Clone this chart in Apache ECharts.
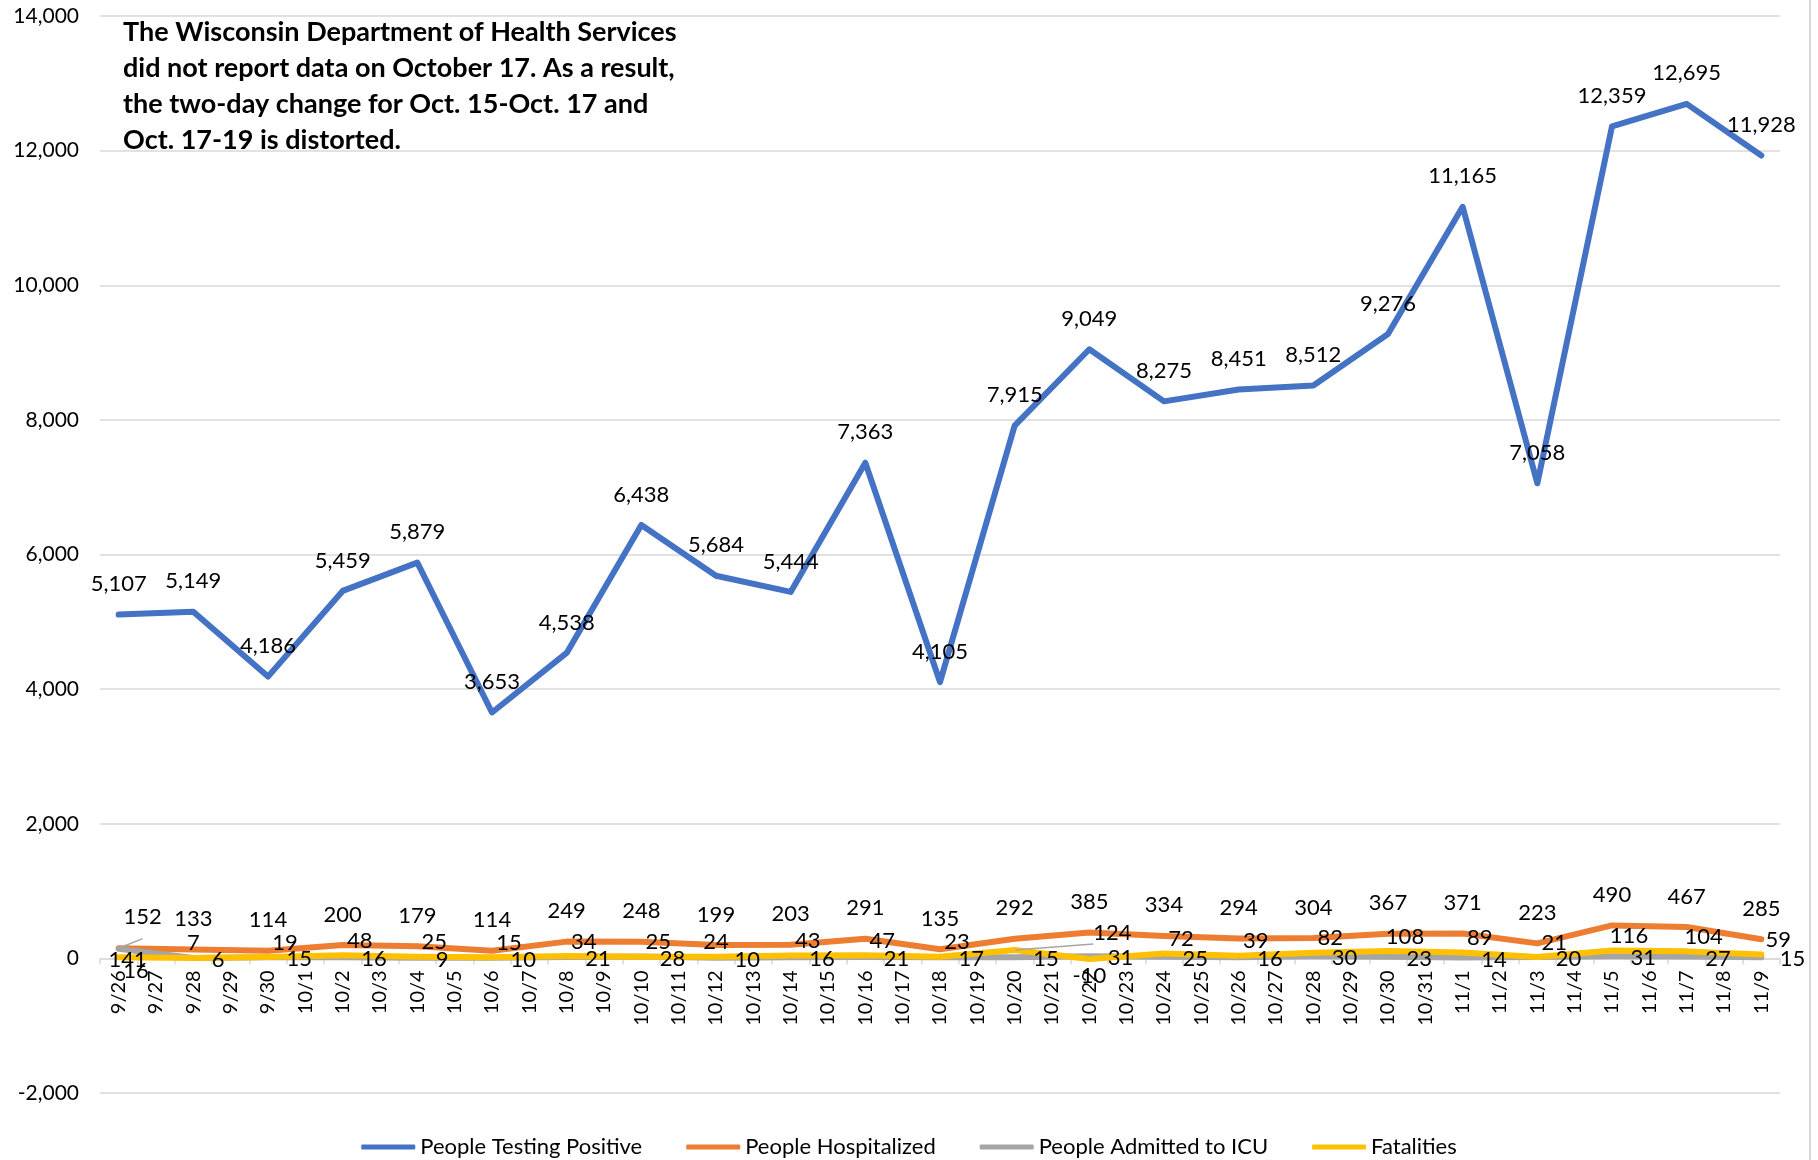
<!DOCTYPE html>
<html>
<head>
<meta charset="utf-8">
<script src="https://cdn.jsdelivr.net/npm/echarts@6/dist/echarts.min.js"></script>
<style>
html,body{margin:0;padding:0;background:#fff;}
#chart{width:1818px;height:1160px;}
</style>
</head>
<body>
<div id="chart"></div>
<script>
const categories = ['9/26','9/27','9/28','9/29','9/30','10/1','10/2','10/3','10/4','10/5','10/6','10/7','10/8','10/9','10/10','10/11','10/12','10/13','10/14','10/15','10/16','10/17','10/18','10/19','10/20','10/21','10/22','10/23','10/24','10/25','10/26','10/27','10/28','10/29','10/30','10/31','11/1','11/2','11/3','11/4','11/5','11/6','11/7','11/8','11/9'];
const pointDates = ['9/26','9/28','9/30','10/2','10/4','10/6','10/8','10/10','10/12','10/14','10/16','10/18','10/20','10/22','10/24','10/26','10/28','10/30','11/1','11/3','11/5','11/7','11/9'];
const testingPositive = [5107,5149,4186,5459,5879,3653,4538,6438,5684,5444,7363,4105,7915,9049,8275,8451,8512,9276,11165,7058,12359,12695,11928];
const hospitalized = [152,133,114,200,179,114,249,248,199,203,291,135,292,385,334,294,304,367,371,223,490,467,285];
const admittedICU = [141,6,15,16,9,10,21,28,10,16,21,17,15,31,25,16,30,23,14,20,31,27,15];
const fatalities = [16,7,19,48,25,15,34,25,24,43,47,23,124,-10,72,39,82,108,89,21,116,104,59];
const yTicks = {min:-2000, max:14000, step:2000};
const noteText = 'The Wisconsin Department of Health Services\ndid not report data on October 17. As a result,\nthe two-day change for Oct. 15-Oct. 17 and\nOct. 17-19 is distorted.';

const FONT = 'Lato, "Liberation Sans", sans-serif';
const fmt = v => Number(v).toLocaleString('en-US');
const labelFmt = p => fmt(p.value[1]);

// per-point label adjustments (styling, not data)
const hospLabelOverrides = {0:{offset:[24,-1]}};
const hospLeader = {0:true};
const icuLabelOverrides = {0:{position:'bottom', distance:0, offset:[9,0]}};
const fatLabelOverrides = {
  0:{position:'right', distance:4, offset:[0,14]},
  1:{offset:[0,0]},
  8:{offset:[0,0]},
  12:{position:'right', distance:4, offset:[74,-17]},
  13:{position:'bottom', distance:5, offset:[0,0]}
};
const fatLeader = {12:true};

function build(values, overrides, leaders){
  return pointDates.map((d,i)=>{
    const item = {value:[d, values[i]]};
    if (overrides && overrides[i]) item.label = overrides[i];
    item.labelLine = {show: !!(leaders && leaders[i])};
    return item;
  });
}

const baseLabel = {show:true, fontFamily:FONT, fontSize:22, color:'#000', formatter:labelFmt};
const leaderStyle = {show:true, lineStyle:{color:'#a6a6a6', width:1.5}, length2:0};

function lineSeries(name, color, data, label, z){
  return {
    name, type:'line', data, z,
    symbol:'circle', symbolSize:1, showSymbol:true,
    itemStyle:{color},
    lineStyle:{color, width:6, cap:'round', join:'round'},
    label, labelLine: leaderStyle,
    emphasis:{disabled:true},
    animation:false
  };
}

// grid geometry: plot spans y = 16 .. 1093, value 0 sits at 960
const gridTop = 16, gridBottomPx = 1093;
const zeroOffset = -((gridBottomPx - gridTop) * (0 - yTicks.min) / (yTicks.max - yTicks.min));

const chart = echarts.init(document.getElementById('chart'), null, {renderer:'canvas'});
chart.setOption({
  backgroundColor:'#fff',
  animation:false,
  title:{
    text: noteText, left:118, top:9,
    textStyle:{fontFamily:FONT, fontWeight:'bold', fontSize:27, lineHeight:36, color:'#000'}
  },
  graphic:[{type:'line', shape:{x1:1810,y1:0,x2:1810,y2:1160}, style:{stroke:'#d9d9d9', lineWidth:2}, silent:true}],
  grid:{left:100, right:38, top:gridTop, bottom:1160-gridBottomPx, containLabel:false},
  legend:{
    left:'center', top:1131,
    icon:'roundRect', itemWidth:54, itemHeight:5, itemGap:44, itemTextGap:4,
    textStyle:{fontFamily:FONT, fontSize:22, color:'#000'},
    data:['People Testing Positive','People Hospitalized','People Admitted to ICU','Fatalities']
  },
  xAxis:{
    type:'category', data:categories, boundaryGap:true,
    position:'bottom', offset:zeroOffset,
    axisLine:{onZero:false, lineStyle:{color:'#d9d9d9', width:1.5}},
    axisTick:{show:true, length:6, lineStyle:{color:'#d9d9d9', width:1.5}},
    axisLabel:{rotate:90, interval:0, fontFamily:FONT, fontSize:20, color:'#000', margin:12},
    splitLine:{show:false}
  },
  yAxis:{
    type:'value', min:yTicks.min, max:yTicks.max, interval:yTicks.step,
    axisLine:{show:false}, axisTick:{show:false},
    axisLabel:{fontFamily:FONT, fontSize:21, color:'#000', margin:21, formatter:v=>fmt(v)},
    splitLine:{lineStyle:{color:'#d9d9d9', width:1.5}}
  },
  series:[
    lineSeries('People Testing Positive', '#4472C4', build(testingPositive), Object.assign({}, baseLabel, {position:'top', distance:19}), 4),
    lineSeries('People Hospitalized', '#ED7D31', build(hospitalized, hospLabelOverrides, hospLeader), Object.assign({}, baseLabel, {position:'top', distance:19}), 3),
    lineSeries('People Admitted to ICU', '#A5A5A5', build(admittedICU, icuLabelOverrides), Object.assign({}, baseLabel, {position:'right', distance:18, offset:[0,2]}), 3),
    lineSeries('Fatalities', '#FFC000', build(fatalities, fatLabelOverrides, fatLeader), Object.assign({}, baseLabel, {position:'top', distance:3, offset:[17,0]}), 3)
  ]
});
</script>
</body>
</html>
